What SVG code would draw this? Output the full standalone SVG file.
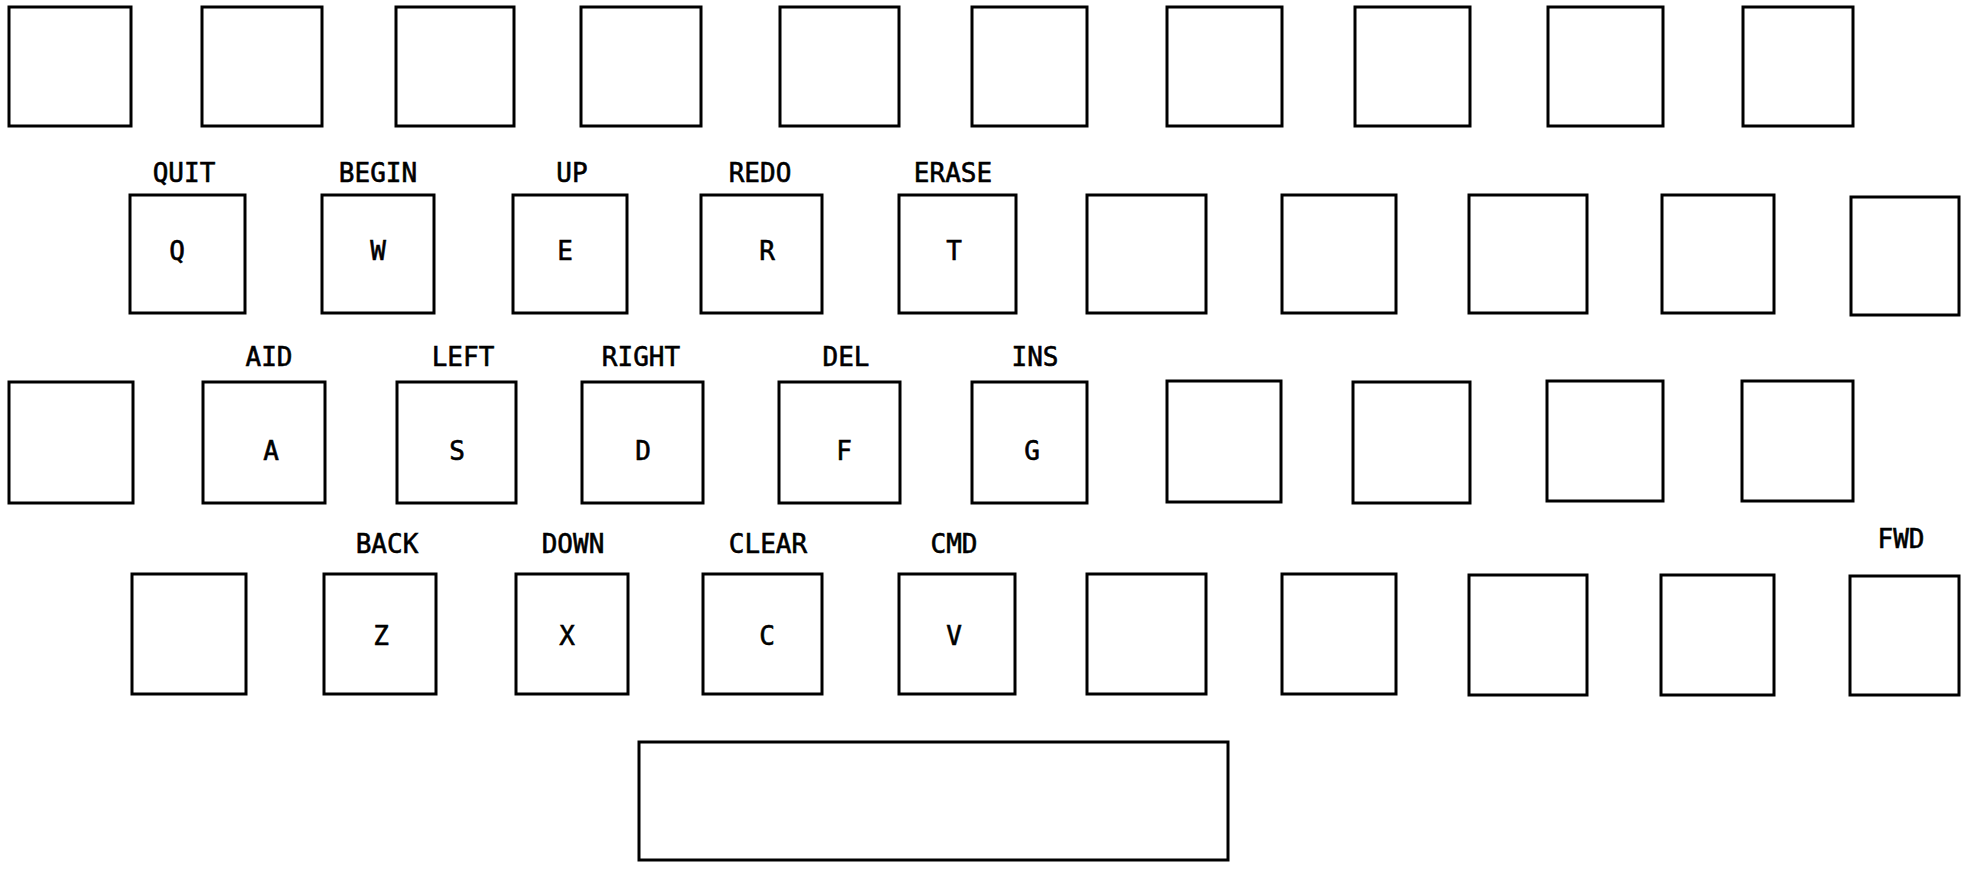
<svg xmlns="http://www.w3.org/2000/svg" width="1972" height="869" viewBox="0 0 1972 869">
<style>
.k{fill:#fff;stroke:#000;stroke-width:3}
.t{font-family:"DejaVu Sans Mono","Liberation Mono",monospace;font-size:26px;fill:#000;stroke:#000;stroke-width:0.6;text-anchor:middle}
</style>
<rect width="1972" height="869" fill="#fff"/>
<g id="row1">
<rect class="k" x="9" y="7" width="122" height="119"/>
<rect class="k" x="202" y="7" width="120" height="119"/>
<rect class="k" x="396" y="7" width="118" height="119"/>
<rect class="k" x="581" y="7" width="120" height="119"/>
<rect class="k" x="780" y="7" width="119" height="119"/>
<rect class="k" x="972" y="7" width="115" height="119"/>
<rect class="k" x="1167" y="7" width="115" height="119"/>
<rect class="k" x="1355" y="7" width="115" height="119"/>
<rect class="k" x="1548" y="7" width="115" height="119"/>
<rect class="k" x="1743" y="7" width="110" height="119"/>
</g>
<g id="row2">
<g id="key-q"><rect class="k" x="130" y="195" width="115" height="118"/><text class="t" x="184" y="182">QUIT</text><text class="t" x="177" y="260">Q</text></g>
<g id="key-w"><rect class="k" x="322" y="195" width="112" height="118"/><text class="t" x="378" y="182">BEGIN</text><text class="t" x="378" y="260">W</text></g>
<g id="key-e"><rect class="k" x="513" y="195" width="114" height="118"/><text class="t" x="572" y="182">UP</text><text class="t" x="565" y="260">E</text></g>
<g id="key-r"><rect class="k" x="701" y="195" width="121" height="118"/><text class="t" x="760" y="182">REDO</text><text class="t" x="767" y="260">R</text></g>
<g id="key-t"><rect class="k" x="899" y="195" width="117" height="118"/><text class="t" x="953" y="182">ERASE</text><text class="t" x="954" y="260">T</text></g>
<rect class="k" x="1087" y="195" width="119" height="118"/>
<rect class="k" x="1282" y="195" width="114" height="118"/>
<rect class="k" x="1469" y="195" width="118" height="118"/>
<rect class="k" x="1662" y="195" width="112" height="118"/>
<rect class="k" x="1851" y="197" width="108" height="118"/>
</g>
<g id="row3">
<rect class="k" x="9" y="382" width="124" height="121"/>
<g id="key-a"><rect class="k" x="203" y="382" width="122" height="121"/><text class="t" x="269" y="366">AID</text><text class="t" x="271" y="460">A</text></g>
<g id="key-s"><rect class="k" x="397" y="382" width="119" height="121"/><text class="t" x="463" y="366">LEFT</text><text class="t" x="457" y="460">S</text></g>
<g id="key-d"><rect class="k" x="582" y="382" width="121" height="121"/><text class="t" x="641" y="366">RIGHT</text><text class="t" x="643" y="460">D</text></g>
<g id="key-f"><rect class="k" x="779" y="382" width="121" height="121"/><text class="t" x="846" y="366">DEL</text><text class="t" x="844" y="460">F</text></g>
<g id="key-g"><rect class="k" x="972" y="382" width="115" height="121"/><text class="t" x="1035" y="366">INS</text><text class="t" x="1032" y="460">G</text></g>
<rect class="k" x="1167" y="381" width="114" height="121"/>
<rect class="k" x="1353" y="382" width="117" height="121"/>
<rect class="k" x="1547" y="381" width="116" height="120"/>
<rect class="k" x="1742" y="381" width="111" height="120"/>
</g>
<g id="row4">
<rect class="k" x="132" y="574" width="114" height="120"/>
<g id="key-z"><rect class="k" x="324" y="574" width="112" height="120"/><text class="t" x="387" y="553">BACK</text><text class="t" x="381" y="645">Z</text></g>
<g id="key-x"><rect class="k" x="516" y="574" width="112" height="120"/><text class="t" x="573" y="553">DOWN</text><text class="t" x="567" y="645">X</text></g>
<g id="key-c"><rect class="k" x="703" y="574" width="119" height="120"/><text class="t" x="768" y="553">CLEAR</text><text class="t" x="767" y="645">C</text></g>
<g id="key-v"><rect class="k" x="899" y="574" width="116" height="120"/><text class="t" x="954" y="553">CMD</text><text class="t" x="954" y="645">V</text></g>
<rect class="k" x="1087" y="574" width="119" height="120"/>
<rect class="k" x="1282" y="574" width="114" height="120"/>
<rect class="k" x="1469" y="575" width="118" height="120"/>
<rect class="k" x="1661" y="575" width="113" height="120"/>
<g id="key-fwd"><rect class="k" x="1850" y="576" width="109" height="119"/><text class="t" x="1901" y="548">FWD</text></g>
</g>
<g id="space"><rect class="k" x="639" y="742" width="589" height="118"/></g>
<g id="connectors"/>
</svg>
